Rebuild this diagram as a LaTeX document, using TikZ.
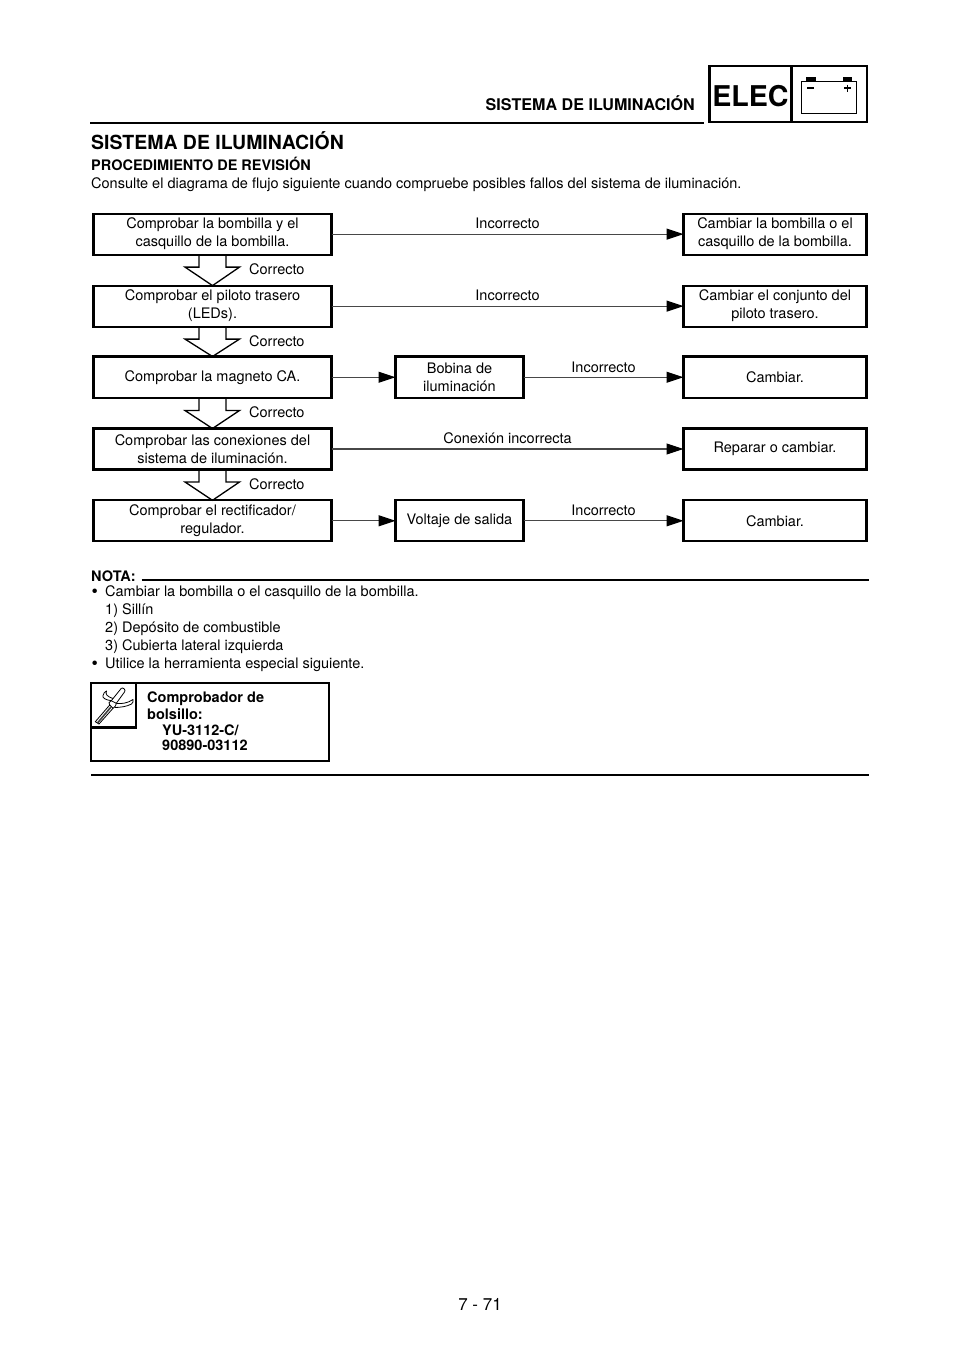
\documentclass[tikz,border=0pt]{standalone}
\usepackage{fontspec}
\setmainfont{TeX Gyre Heros}
\usetikzlibrary{arrows.meta,calc}
\tikzset{
 x=1pt,y=-1pt,
 fbox/.style={draw=black,line width=2.2pt,outer sep=0pt,inner sep=0pt,align=center,font=\fontsize{14.5}{18}\selectfont,anchor=north west},
 plainbox/.style={draw=black,line width=2.2pt,outer sep=0pt,inner sep=0pt,anchor=north west},
 conn/.style={draw=black!72,line width=1.05pt,-{Triangle[length=17pt,width=11pt,color=black]}},
 lab/.style={font=\fontsize{14.5}{18}\selectfont,inner sep=0pt,anchor=base},
 blockarrow/.style={draw=black,line width=1.3pt,line join=miter},
 rule/.style={draw=black,line width=2.5pt},
 txt/.style={inner sep=0pt,anchor=base west,font=\fontsize{14.5}{18}\selectfont},
 bold/.style={inner sep=0pt,anchor=base west,font=\bfseries\fontsize{14.5}{18}\selectfont},
 bul/.style={inner sep=0pt,anchor=base west,font=\fontsize{18}{18}\selectfont},
}
\newcommand{\fb}[6]{\node[fbox,minimum width=#3pt-2pt,minimum height=#4pt-2pt] (#5) at (#1+1,#2+1) {#6};}
\newcommand{\blockarr}[2]{% from node 1 to node 2
 \path (#1.south) ++(-13.5,0) coordinate (al) (#1.south) ++(13.5,0) coordinate (ar);
 \draw[blockarrow] (al) -- ++(0,12.5) -- ++(-14,0) -- (#2.north) -- ($(ar)+(13.5,12.5)$) -- ++(-13.5,0) -- (ar);
}
\begin{document}
\begin{tikzpicture}
\useasboundingbox (0,0) rectangle (960,1358);
\fill[white] (0,0) rectangle (960,1358);
% header
\node[inner sep=0pt,anchor=base east,font=\bfseries\fontsize{16.1}{18}\selectfont] (hd) at (695,110) {SISTEMA DE ILUMINACIÓN};
\coordinate (hl) at (90,123); \coordinate (hr) at (704,123);
\draw[rule] (hl) -- (hr);
\node[plainbox,minimum width=157.5pt,minimum height=56pt] (hb) at (709.5,66) {};
\coordinate (ht) at (791.5,66); \coordinate (hbm) at (791.5,122);
\draw[line width=2.2pt] (ht) -- (hbm);
\node[inner sep=0pt,anchor=base,font=\bfseries\fontsize{28.6}{32}\selectfont] (elec) at (750.5,106) {ELEC};
% battery
\draw[line width=1pt] (801.5,81.5) rectangle (856.5,113);
\fill (806,76.7) rectangle (815.5,81.5);
\fill (842.7,76.7) rectangle (852.2,81.5);
\draw[line width=1.2pt] (807,88) -- (814,88);
\draw[line width=1.2pt] (844,88) -- (851,88) (847.5,84.5) -- (847.5,91.5);
% title
\node[inner sep=0pt,anchor=base west,font=\bfseries\fontsize{19.45}{22}\selectfont] (title) at (91,149.6) {SISTEMA DE ILUMINACIÓN};
\node[bold] (sub) at (91,170) {PROCEDIMIENTO DE REVISIÓN};
\node[txt] (intro) at (91,188.6) {Consulte el diagrama de flujo siguiente cuando compruebe posibles fallos del sistema de iluminación.};
% left column
\fb{92.5}{212.6}{240}{43}{a1}{Comprobar la bombilla y el\\casquillo de la bombilla.}
\fb{92.5}{284.6}{240}{43}{a2}{Comprobar el piloto trasero\\(LEDs).}
\fb{92.5}{355.5}{240}{43.5}{a3}{Comprobar la magneto CA.}
\fb{92.5}{427.5}{240}{43}{a4}{Comprobar las conexiones del\\sistema de iluminación.}
\fb{92.5}{499.3}{240}{43}{a5}{Comprobar el rectificador/\\regulador.}
% right column
\fb{682.5}{212.6}{185}{43}{c1}{Cambiar la bombilla o el\\casquillo de la bombilla.}
\fb{682.5}{284.6}{185}{43}{c2}{Cambiar el conjunto del\\piloto trasero.}
\fb{682.5}{355.5}{185}{43.5}{c3}{Cambiar.}
\fb{682.5}{427.5}{185}{43}{c4}{Reparar o cambiar.}
\fb{682.5}{499.3}{185}{43}{c5}{Cambiar.}
% middle
\fb{394.5}{355.5}{130}{43.5}{b3}{Bobina de\\iluminación}
\fb{394.5}{499.3}{130}{43}{b5}{Voltaje de salida}
% connectors
\draw[conn] (a1) -- (c1);
\draw[conn] (a2) -- (c2);
\draw[conn] (a3) -- (b3);
\draw[conn] (b3) -- (c3);
\draw[conn] (a4) -- (c4);
\draw[conn] (a5) -- (b5);
\draw[conn] (b5) -- (c5);
% labels
\node[lab] (l1) at (507.5,228.6) {Incorrecto};
\node[lab] (l2) at (507.5,300.5) {Incorrecto};
\node[lab] (l3) at (603.5,372) {Incorrecto};
\node[lab] (l4) at (507.5,443.5) {Conexión incorrecta};
\node[lab] (l5) at (603.5,515.5) {Incorrecto};
% block arrows
\blockarr{a1}{a2}
\blockarr{a2}{a3}
\blockarr{a3}{a4}
\blockarr{a4}{a5}
\node[lab,anchor=base west] (k1) at (249,274) {Correcto};
\node[lab,anchor=base west] (k2) at (249,346) {Correcto};
\node[lab,anchor=base west] (k3) at (249,417.5) {Correcto};
\node[lab,anchor=base west] (k4) at (249,489) {Correcto};
% nota
\node[bold] (nota) at (91,581.7) {NOTA:};
\coordinate (nl) at (141.5,580); \coordinate (nr) at (869,580);
\draw[rule] (nl) -- (nr);
\node[bul] (n1) at (91.5,597.5) {•};
\node[txt] (n1t) at (105,596) {Cambiar la bombilla o el casquillo de la bombilla.};
\node[txt] (n2) at (105,614) {1) Sillín};
\node[txt] (n3) at (105,632) {2) Depósito de combustible};
\node[txt] (n4) at (105,650) {3) Cubierta lateral izquierda};
\node[bul] (n5) at (91.5,669.5) {•};
\node[txt] (n5t) at (105,668) {Utilice la herramienta especial siguiente.};
% tool box
\node[plainbox,minimum width=238pt,minimum height=78pt] (tb) at (91,682.7) {};
\node[plainbox,minimum width=45pt,minimum height=44.8pt] (ti) at (91,682.7) {};
% tool icon
\begin{scope}[line width=0.8pt,line join=round]
\draw (95.3,721.7) -- (109.7,705) -- (113,708.3) -- (99,724) -- cycle;
\draw[line width=1.6pt,black!75] (97.5,723) -- (111,707);
\draw (111.3,700.7) -- (121.3,688.3) .. controls (123,687) and (126,690) .. (124.7,691.7) -- (116.3,703.3);
\draw (109.7,705) .. controls (108,703) and (109,702) .. (111.3,700.7) -- (116.3,703.3) .. controls (116.5,705) and (115,707) .. (113,708.3);
\draw (111.3,700.7) .. controls (106,700) and (102,698) .. (103,695.5) .. controls (103.5,693) and (105,691.5) .. (106.5,691) .. controls (105.5,694) and (106,696) .. (113,698.5);
\draw (116.3,703.5) .. controls (122,704) and (128,703) .. (133,699.5) .. controls (133.5,701) and (133,703) .. (131.5,704) .. controls (127,706.5) and (120,707.5) .. (114.5,707.5);
\end{scope}
\node[bold] (t1) at (147,702) {Comprobador de};
\node[bold] (t2) at (147,719) {bolsillo:};
\node[bold] (t3) at (162,735) {YU-3112-C/};
\node[bold] (t4) at (162,750) {90890-03112};
\coordinate (bl) at (91,775); \coordinate (br) at (869,775);
\draw[rule] (bl) -- (br);
% footer
\node[inner sep=0pt,anchor=base,font=\fontsize{17}{20}\selectfont] (pg) at (480,1310) {7 - 71};
\end{tikzpicture}
\end{document}
